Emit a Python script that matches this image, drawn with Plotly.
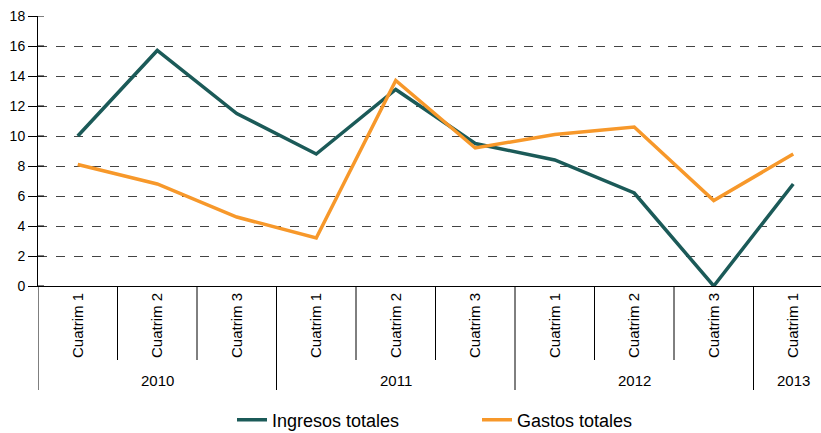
import plotly.graph_objects as go

quarters = ["Cuatrim 1", "Cuatrim 2", "Cuatrim 3", "Cuatrim 1", "Cuatrim 2", "Cuatrim 3",
            "Cuatrim 1", "Cuatrim 2", "Cuatrim 3", "Cuatrim 1"]
years = ["2010", "2011", "2012", "2013"]
year_counts = [3, 3, 3, 1]
ingresos = [10.0, 15.7, 11.5, 8.8, 13.1, 9.5, 8.4, 6.2, 0.0, 6.8]
gastos = [8.1, 6.8, 4.6, 3.2, 13.7, 9.2, 10.1, 10.6, 5.7, 8.8]

xs = list(range(len(quarters)))
font = "Liberation Sans, Arial, sans-serif"

fig = go.Figure()
fig.add_trace(go.Scatter(x=xs, y=ingresos, mode="lines", name="Ingresos totales",
                         line=dict(color="#1b5a58", width=3.5)))
fig.add_trace(go.Scatter(x=xs, y=gastos, mode="lines", name="Gastos totales",
                         line=dict(color="#f7982a", width=3.5)))

# dividers
shapes = []
start = 0
bounds = set()
for c in year_counts:
    bounds.add(start - 0.5)
    start += c
bounds.add(start - 0.5)
for i in range(len(quarters) + 1):
    b = i - 0.5
    long_ = b in bounds
    shapes.append(dict(type="line", xref="x", yref="paper", x0=b, x1=b, y0=0,
                       y1=-(104 / 270) if long_ else -(74 / 270),
                       line=dict(color="black", width=1)))
# y ticks crossing the axis (inner part)
for v in range(0, 19, 2):
    shapes.append(dict(type="line", xref="paper", yref="y", x0=0, x1=6 / 783, y0=v, y1=v,
                       line=dict(color="black", width=1)))

annotations = []
start = 0
for y, c in zip(years, year_counts):
    annotations.append(dict(x=start + (c - 1) / 2, y=-(94 / 270), xref="x", yref="paper",
                            text=y, showarrow=False, font=dict(family=font, size=15, color="black"),
                            yanchor="middle"))
    start += c

fig.update_layout(
    width=821, height=433,
    margin=dict(l=38, r=0, t=16, b=147, autoexpand=False),
    plot_bgcolor="white", paper_bgcolor="white",
    font=dict(family=font, size=14, color="black"),
    shapes=shapes, annotations=annotations,
    legend=dict(orientation="h", x=(232 - 38) / 783, xanchor="left", y=-(420 - 286) / 270,
                yanchor="middle",
                font=dict(family=font, size=18, color="black"),
                entrywidth=200, entrywidthmode="pixels", itemwidth=30),
    xaxis=dict(range=[-0.5, -0.5 + 783 / 79.5], tickvals=xs, ticktext=quarters, tickangle=-90,
               showgrid=False, zeroline=False, showline=True, linecolor="black", linewidth=1,
               ticks="", tickfont=dict(family=font, size=15, color="black"), automargin=False),
    yaxis=dict(range=[0, 18], dtick=2, showgrid=True, gridcolor="#444", griddash="dash",
               gridwidth=1, zeroline=False, showline=True, linecolor="black", linewidth=1,
               ticks="outside", ticklen=9, tickcolor="black", automargin=False,
               tickfont=dict(family=font, size=14, color="black")),
)
fig.write_html("out.html", config={"displayModeBar": False},
               post_script="document.body.style.margin='0';document.body.style.overflow='hidden';")
